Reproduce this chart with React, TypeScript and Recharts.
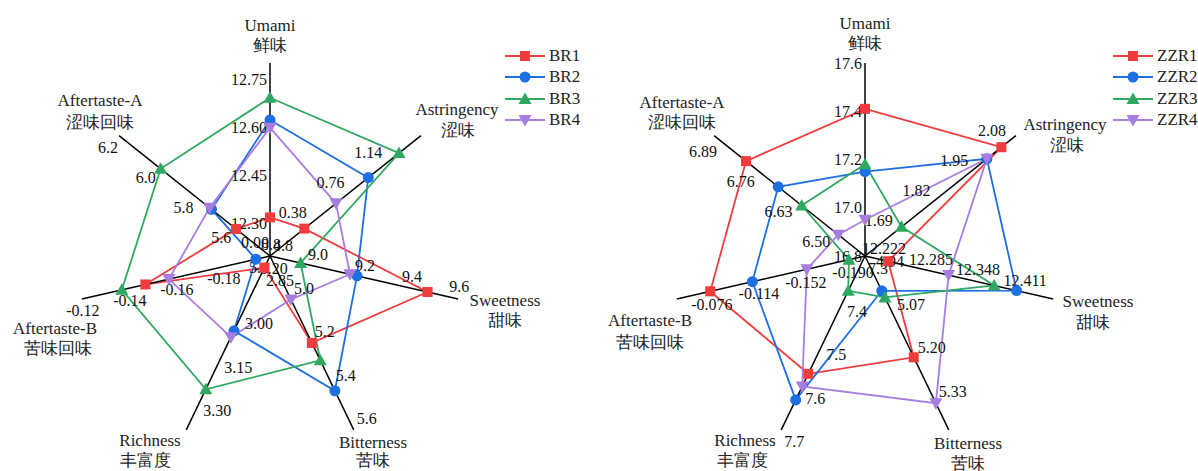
import React from 'react'
import { RadarChart, Radar, PolarAngleAxis, PolarRadiusAxis, Legend } from 'recharts'

// axes, clockwise from top
const axisNames = ['Umami', 'Astringency', 'Sweetness', 'Bitterness', 'Richness', 'Aftertaste-B', 'Aftertaste-A']
const axisNamesCn = ['鲜味', '涩味', '甜味', '苦味', '丰富度', '苦味回味', '涩味回味']

// BR group: each axis has its own scale (value at centre + step per ring)
const brOrigin = [12.15, 0, 8.8, 4.8, 2.85, -0.2, 5.4]
const brStep = [0.15, 0.38, 0.2, 0.2, 0.15, 0.02, 0.2]
const brTickLabels = [
  ['', '12.30', '12.45', '12.60', '12.75'],
  ['0.00', '0.38', '0.76', '1.14', ''],
  ['8.8', '9.0', '9.2', '9.4', '9.6'],
  ['4.8', '5.0', '5.2', '5.4', '5.6'],
  ['2.85', '3.00', '3.15', '3.30', ''],
  ['-0.20', '-0.18', '-0.16', '-0.14', '-0.12'],
  ['5.4', '5.6', '5.8', '6.0', '6.2'],
]
const br1 = [12.27, 0.346, 9.47, 5.2, 2.89, -0.147, 5.58]
const br2 = [12.573, 0.99, 9.17, 5.42, 3.108, -0.194, 5.71]
const br3 = [12.642, 1.3, 8.93, 5.28, 3.31, -0.137, 5.98]
const br4 = [12.549, 0.665, 9.14, 5.0, 3.13, -0.157, 5.72]

// ZZR group
const zzOrigin = [16.8, 1.56, 12.222, 4.94, 7.3, -0.19, 6.37]
const zzStep = [0.2, 0.13, 0.063, 0.13, 0.1, 0.038, 0.13]
const zzTickLabels = [
  ['16.8', '17.0', '17.2', '17.4', '17.6'],
  ['', '1.69', '1.82', '1.95', '2.08'],
  ['12.222', '12.285', '12.348', '12.411', ''],
  ['4.94', '5.07', '5.20', '5.33', ''],
  ['7.3', '7.4', '7.5', '7.6', '7.7'],
  ['-0.190', '-0.152', '-0.114', '-0.076', ''],
  ['', '6.50', '6.63', '6.76', '6.89'],
]
const zz1 = [17.41, 2.03, 12.253, 5.243, 7.571, -0.065, 6.78]
const zz2 = [17.15, 1.98, 12.425, 5.044, 7.631, -0.099, 6.669]
const zz3 = [17.18, 1.686, 12.395, 5.064, 7.38, -0.177, 6.588]
const zz4 = [16.95, 1.98, 12.334, 5.38, 7.6, -0.143, 6.462]

const COLORS = ['#f03c3c', '#1e6fe2', '#2fa862', '#a87de2']
const SHAPES = ['square', 'circle', 'triangle', 'down']
const FONT = "'Liberation Serif', 'DejaVu Serif', serif"

const R = 193
const STEP_ANGLE = 360 / 7

function Marker({ shape, cx, cy, color }: any) {
  if (cx == null || cy == null) return null
  if (shape === 'square') return <rect x={cx - 5} y={cy - 5} width={10} height={10} fill={color} />
  if (shape === 'circle') return <circle cx={cx} cy={cy} r={5.5} fill={color} />
  if (shape === 'triangle')
    return <polygon points={`${cx},${cy - 6.5} ${cx + 6.5},${cy + 5} ${cx - 6.5},${cy + 5}`} fill={color} />
  return <polygon points={`${cx - 6.5},${cy - 5} ${cx + 6.5},${cy - 5} ${cx},${cy + 6.5}`} fill={color} />
}

function buildData(origin: number[], step: number[], series: number[][]) {
  return axisNames.map((name, i) => {
    const row: any = { axis: name }
    series.forEach((s, k) => {
      row[`s${k}`] = (s[i] - origin[i]) / step[i]
    })
    return row
  })
}

function RadarPanel({ left, cx, cy, names, series, origin, step, tickLabels, tickOffsets, titleOffsets, legendLeft }: any) {
  const data = buildData(origin, step, series)

  const renderAngleTick = (props: any) => {
    const i = axisNames.indexOf(props.payload.value)
    const [ex, ey, zx, zy] = titleOffsets[i]
    return (
      <g>
        <text x={cx + ex} y={cy + ey} textAnchor="middle" dominantBaseline="central" fontSize={17} fill="#222" style={{ fontFamily: FONT }}>
          {axisNames[i]}
        </text>
        <text x={cx + zx} y={cy + zy} textAnchor="middle" dominantBaseline="central" fontSize={17} fill="#222" style={{ fontFamily: FONT }}>
          {axisNamesCn[i]}
        </text>
      </g>
    )
  }

  const radiusTick = (axisIdx: number) => (props: any) => {
    const { x, y, payload } = props
    const label = tickLabels[axisIdx][Math.round(payload.value)]
    if (!label) return <g />
    const [anchor, dx, dy] = tickOffsets[axisIdx]
    return (
      <text x={x + dx} y={y + dy} textAnchor={anchor} dominantBaseline="central" fontSize={16} fill="#111" style={{ fontFamily: FONT }}>
        {label}
      </text>
    )
  }

  const renderLegend = (props: any) => {
    const payload = (props.payload || []).filter((e: any) => names.includes(e.value))
    return (
      <div style={{ fontFamily: FONT, fontSize: 17, color: '#222' }}>
        {payload.map((entry: any, k: number) => (
          <div key={k} style={{ display: 'flex', alignItems: 'center', height: 21.5 }}>
            <svg width={40} height={14} style={{ marginRight: 4 }}>
              <line x1={0} y1={7} x2={40} y2={7} stroke={entry.color} strokeWidth={2} />
              <Marker shape={SHAPES[k]} cx={20} cy={7} color={entry.color} />
            </svg>
            <span>{entry.value}</span>
          </div>
        ))}
      </div>
    )
  }

  return (
    <div style={{ position: 'absolute', left, top: 0 }}>
      <RadarChart width={599} height={471} data={data} cx={cx} cy={cy} outerRadius={R} margin={{ top: 0, right: 0, bottom: 0, left: 0 }}>
        <PolarAngleAxis dataKey="axis" tick={renderAngleTick} axisLine={false} tickLine={false} />
        {axisNames.map((_, i) => (
          <PolarRadiusAxis
            key={i}
            radiusAxisId={i}
            angle={90 - i * STEP_ANGLE}
            type="number"
            domain={[0, 4]}
            tickCount={5}
            tick={radiusTick(i)}
            tickLine={false}
            axisLine={{ stroke: '#000', strokeWidth: 1.5 }}
          />
        ))}
        {/* hidden series so every per-axis radius scale gets built */}
        {axisNames.map((_, i) =>
          i === 0 ? null : (
            <Radar
              key={`h${i}`}
              dataKey="s0"
              radiusAxisId={i}
              stroke="none"
              fill="none"
              dot={false}
              legendType="none"
              isAnimationActive={false}
            />
          )
        )}
        {series.map((_: any, k: number) => (
          <Radar
            key={k}
            name={names[k]}
            dataKey={`s${k}`}
            radiusAxisId={0}
            stroke={COLORS[k]}
            strokeWidth={1.8}
            fill="none"
            fillOpacity={0}
            isAnimationActive={false}
            dot={(p: any) => <Marker key={`d${k}-${p.index}`} shape={SHAPES[k]} cx={p.cx} cy={p.cy} color={COLORS[k]} />}
          />
        ))}
        <Legend content={renderLegend} wrapperStyle={{ position: 'absolute', left: legendLeft, top: 45, width: 100 }} />
      </RadarChart>
    </div>
  )
}

const brTickOffsets = [
  ['end', -3, 16],
  ['middle', -15, -13.5],
  ['middle', 1, -12],
  ['middle', 13, -11],
  ['middle', 10, 24.5],
  ['middle', 1, 12],
  ['middle', -11, 11.5],
]
const zzTickOffsets = [
  ['end', -3, 0],
  ['middle', -24, -5],
  ['middle', 19, -7.5],
  ['middle', 25, 5],
  ['middle', 13, 12],
  ['middle', -12, 16],
  ['middle', -11, 16],
]
const brTitleOffsets = [
  [0, -231, 0, -211],
  [187, -147, 188, -126],
  [235, 44, 235, 64],
  [103, 186, 103, 204],
  [-120, 184, -125, 204],
  [-215, 72, -212, 92],
  [-170, -156, -170, -134],
]
const zzTitleOffsets = [
  [0, -233, 0, -213],
  [200, -132, 202, -111],
  [233, 45, 228, 66],
  [103, 187, 103, 207],
  [-120, 184, -123, 204],
  [-215, 64, -215, 86],
  [-183, -154, -183, -134],
]

export default function App() {
  return (
    <div style={{ position: 'absolute', left: 0, top: 0, width: 1198, height: 471, background: '#fff', overflow: 'hidden' }}>
      <RadarPanel
        left={0}
        cx={270}
        cy={256}
        names={['BR1', 'BR2', 'BR3', 'BR4']}
        series={[br1, br2, br3, br4]}
        origin={brOrigin}
        step={brStep}
        tickLabels={brTickLabels}
        tickOffsets={brTickOffsets}
        titleOffsets={brTitleOffsets}
        legendLeft={505}
      />
      <RadarPanel
        left={599}
        cx={266}
        cy={256}
        names={['ZZR1', 'ZZR2', 'ZZR3', 'ZZR4']}
        series={[zz1, zz2, zz3, zz4]}
        origin={zzOrigin}
        step={zzStep}
        tickLabels={zzTickLabels}
        tickOffsets={zzTickOffsets}
        titleOffsets={zzTitleOffsets}
        legendLeft={514}
      />
    </div>
  )
}
